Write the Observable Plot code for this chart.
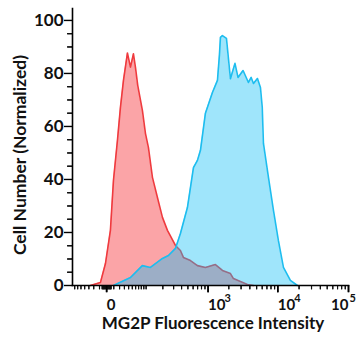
<!DOCTYPE html>
<html><head><meta charset="utf-8">
<script src="https://cdn.jsdelivr.net/npm/d3@7"></script>
<script src="https://cdn.jsdelivr.net/npm/@observablehq/plot@0.6"></script>
<style>body{margin:0;background:#fff;} svg{font-family:Lato,"Open Sans",sans-serif;}</style>
</head><body><div id="chart"></div>
<script>
// Control (red) histogram
const redX = [-26.6, -8.6, -1.5, 5, 9.5, 16.1, 21.7, 27.9, 37, 44.8, 53.3, 59.4, 67, 84.4, 97, 110.9, 131.6, 161.6, 197, 238.5, 320.8, 384, 427, 547, 696, 914, 1280, 1618, 2111, 2331, 2937, 3698, 4505];
const redY = [0, 1.1, 8.3, 20.8, 39.6, 54.7, 67.2, 77.4, 87.7, 82.4, 87.4, 82.4, 75.5, 66, 57.4, 52, 40.8, 33.2, 25.7, 20.8, 15.1, 13.2, 10.6, 9.4, 7.5, 6.8, 7.9, 5.7, 4.5, 2.6, 1.5, 0.4, 0];
// MG2P (blue) histogram
const blueX = [9.5, 45, 84, 121, 197, 248, 321, 384, 492, 607, 696, 772, 914, 1158, 1370, 1464, 1514, 1618, 1849, 2111, 2452, 2711, 3204, 3821, 4180, 4505, 5137, 5666, 6010, 6250, 7362, 8670, 10180, 12015, 15080, 18940];
const blueY = [0, 3, 7.5, 6.8, 10.2, 11.3, 14, 19.6, 29.4, 44.5, 47.2, 51, 65, 72.8, 77.4, 87, 93.6, 94.3, 93.2, 78, 83.8, 78.5, 81.1, 76.6, 78.5, 76.2, 78.1, 74.7, 67.2, 53.6, 40.8, 28.3, 17, 6.8, 1.9, 0];

const xDomain = [-78, 100000];
const yDomain = [0, 104.5];
const yTicks = [0, 20, 40, 60, 80, 100];
const yMinorTicks = [5,10,15,25,30,35,45,50,55,65,70,75,85,90,95];
const xMajorTicks = [0, 1000, 10000];
const xMajorLabels = ["0", "10", "10"];
const xEndTick = [100000];
const xMidExp = [{v: 1000, exp: "3"}, {v: 10000, exp: "4"}];
const xEndExp = [{v: 100000, exp: "5"}];
const xMinorTicks = [-70,-60,-50,-40,-30,-20,-10,-6,-5,-4,-3,-2,-1,1,2,3,4,5,6,10,20,30,40,50,60,70,80,90,100,200,300,400,500,600,700,800,900,2000,3000,4000,5000,6000,7000,8000,9000,20000,30000,40000,50000,60000,70000,80000,90000];
const xTitle = "MG2P Fluorescence Intensity";
const yTitle = "Cell Number (Normalized)";

const red = redX.map((x, i) => ({x, y: redY[i]}));
const blue = blueX.map((x, i) => ({x, y: blueY[i]}));

const font = "Lato, 'Open Sans', sans-serif";
const lab = {frameAnchor: "bottom", lineAnchor: "middle", fontWeight: 700, fill: "#111"};
const chart = Plot.plot({
  width: 356,
  height: 337,
  marginLeft: 72,
  marginRight: 8,
  marginTop: 8,
  marginBottom: 52,
  style: {fontFamily: font, background: "#fff"},
  x: {type: "symlog", constant: 38.3, domain: xDomain, axis: null},
  y: {domain: yDomain, axis: null},
  marks: [
    Plot.areaY(red, {x: "x", y: "y", fill: "#fba4a7", curve: "linear"}),
    Plot.lineY(red, {x: "x", y: "y", stroke: "#ef3a3e", strokeWidth: 1.6, curve: "linear"}),
    Plot.areaY(blue, {x: "x", y: "y", fill: "rgb(15,190,245)", fillOpacity: 0.4, curve: "linear"}),
    Plot.lineY(blue, {x: "x", y: "y", stroke: "#1dbdef", strokeWidth: 1.6, curve: "linear"}),
    Plot.axisY({ticks: yMinorTicks, tickSize: 5, tickFormat: () => "", label: null, strokeWidth: 1.2}),
    Plot.link(yMinorTicks, {x1: () => -99, x2: () => xDomain[0], y1: d => d, y2: d => d, stroke: "#111", strokeWidth: 1.2}),
    Plot.axisY({ticks: yTicks, tickSize: 8, tickPadding: 1, label: null, fontSize: 17, fontWeight: 700, strokeWidth: 1.4, fill: "#111"}),
    Plot.axisX({ticks: xMinorTicks, tickSize: 4, tickFormat: () => "", label: null, strokeWidth: 1.1}),
    Plot.link(xMinorTicks, {x1: d => d, x2: d => d, y1: () => 0, y2: () => -1.5, stroke: "#111", strokeWidth: 1.1}),
    Plot.link(xMajorTicks.concat(xEndTick), {x1: d => d, x2: d => d, y1: () => 0, y2: () => -2.6, stroke: "#111", strokeWidth: 1.6}),
    Plot.axisX({ticks: xMajorTicks, tickSize: 7, tickPadding: 7, tickFormat: (d) => xMajorLabels[xMajorTicks.indexOf(d)], textAnchor: "start", label: null, fontSize: 15, fontWeight: 700, strokeWidth: 1.6, fill: "#111"}),
    Plot.axisX({ticks: xEndTick, tickSize: 7, tickPadding: 7, tickFormat: () => "10", textAnchor: "end", label: null, fontSize: 15, fontWeight: 700, strokeWidth: 1.6, fill: "#111"}),
    Plot.frame({anchor: "left", strokeWidth: 1.6}),
    Plot.frame({anchor: "bottom", strokeWidth: 1.6}),
    Plot.text(xMidExp, {...lab, x: "v", text: "exp", textAnchor: "start", dy: 13, dx: 16.5, fontSize: 11}),
    Plot.text(xEndExp, {...lab, x: "v", text: "exp", textAnchor: "start", dy: 13, dx: 1, fontSize: 11}),
    Plot.text([xTitle], {...lab, dy: 38, dx: 2.5, fontSize: 17}),
    Plot.text([yTitle], {frameAnchor: "left", textAnchor: "middle", lineAnchor: "middle", rotate: -90, dx: -52, dy: 8, fontSize: 17.5, fontWeight: 700, fill: "#111"})
  ]
});
document.getElementById("chart").appendChild(chart);
</script>
</body></html>
